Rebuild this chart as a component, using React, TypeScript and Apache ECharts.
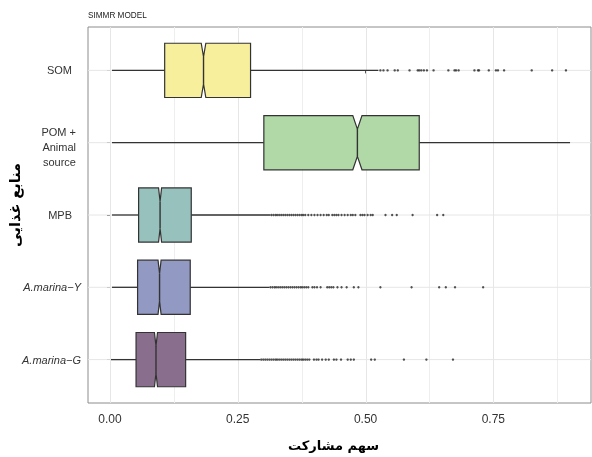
import React, { useEffect, useRef } from 'react';
import * as echarts from 'echarts';

// Categories, top to bottom
const categories = ['SOM', 'POM + Animal source', 'MPB', 'A.marina−Y', 'A.marina−G'];
const labelMarkup = [
  '{n|SOM}',
  '{p|POM +\nAnimal\nsource}',
  '{n|MPB}',
  '{i|A.marina−Y}',
  '{i|A.marina−G}',
];
const boxColors = ['#f8ef9c', '#b1d9a8', '#96c1bd', '#9299c2', '#8a6e8e'];

// Box statistics
const whiskerLow = [0.004, 0.004, 0.004, 0.004, 0.002];
const q1 = [0.107, 0.301, 0.056, 0.054, 0.051];
const median = [0.183, 0.484, 0.098, 0.097, 0.09];
const q3 = [0.275, 0.605, 0.159, 0.157, 0.148];
const whiskerHigh = [0.525, 0.9, 0.314, 0.312, 0.294];
const notchHalf = [0.0045, 0.009, 0.003, 0.003, 0.003];

// Outliers
const outliersSOM = [0.529, 0.535, 0.543, 0.557, 0.563, 0.586, 0.602, 0.605, 0.609, 0.614, 0.62, 0.633, 0.662, 0.674, 0.677, 0.682, 0.713, 0.72, 0.722, 0.741, 0.755, 0.759, 0.771, 0.825, 0.865, 0.892];
const outliersPOM: number[] = [];
const outliersMPB = [0.316, 0.32, 0.324, 0.327, 0.331, 0.335, 0.339, 0.343, 0.347, 0.351, 0.355, 0.359, 0.363, 0.367, 0.371, 0.375, 0.378, 0.382, 0.388, 0.394, 0.4, 0.406, 0.412, 0.418, 0.424, 0.428, 0.435, 0.439, 0.443, 0.447, 0.453, 0.459, 0.465, 0.471, 0.475, 0.48, 0.49, 0.494, 0.498, 0.504, 0.51, 0.514, 0.539, 0.552, 0.561, 0.592, 0.64, 0.652];
const outliersAmY = [0.314, 0.318, 0.322, 0.325, 0.329, 0.333, 0.337, 0.341, 0.345, 0.349, 0.353, 0.357, 0.361, 0.365, 0.369, 0.373, 0.376, 0.38, 0.384, 0.388, 0.396, 0.4, 0.405, 0.412, 0.425, 0.429, 0.433, 0.437, 0.445, 0.453, 0.463, 0.477, 0.486, 0.529, 0.59, 0.644, 0.657, 0.675, 0.73];
const outliersAmG = [0.296, 0.3, 0.304, 0.308, 0.312, 0.316, 0.32, 0.324, 0.327, 0.331, 0.335, 0.339, 0.343, 0.347, 0.351, 0.355, 0.359, 0.363, 0.367, 0.371, 0.375, 0.378, 0.382, 0.386, 0.39, 0.399, 0.404, 0.408, 0.415, 0.422, 0.428, 0.438, 0.443, 0.452, 0.465, 0.471, 0.477, 0.511, 0.518, 0.575, 0.619, 0.671];
const outliers = [outliersSOM, outliersPOM, outliersMPB, outliersAmY, outliersAmG];

const xTicks = [0, 0.25, 0.5, 0.75];
const xMinor = [0.125, 0.375, 0.625, 0.875];
const yTicks = [0, 1, 2, 3, 4];

const FONT = 'Liberation Sans, Arial, Helvetica, sans-serif';
const AR_FONT = 'DejaVu Sans, sans-serif';

export default function App() {
  const ref = useRef<HTMLDivElement>(null);
  useEffect(() => {
    const chart = echarts.init(ref.current!, null, { renderer: 'svg' });
    const boxData = categories.map((_, i) => [i, whiskerLow[i], q1[i], median[i], q3[i], whiskerHigh[i], notchHalf[i]]);
    const outlierData: number[][] = [];
    outliers.forEach((arr, i) => arr.forEach((v) => outlierData.push([v, i])));

    const option: any = {
      animation: false,
      title: {
        text: 'SIMMR MODEL',
        left: 83,
        top: 6.5,
        textStyle: { fontFamily: FONT, fontSize: 8.2, fontWeight: 'normal', color: '#222' },
      },
      grid: {
        left: 88,
        right: 1,
        top: 27,
        bottom: 54,
        outerBoundsMode: 'none',
        containLabel: false,
        show: true,
        borderColor: '#8c8c8c',
        borderWidth: 1,
        backgroundColor: '#fff',
      },
      xAxis: {
        type: 'value',
        min: -0.043,
        max: 0.941,
        axisLine: { show: false },
        splitLine: { show: false },
        axisTick: { show: true, customValues: xTicks, length: 3, lineStyle: { color: '#555' } },
        axisLabel: {
          customValues: xTicks,
          formatter: (v: number) => v.toFixed(2),
          fontFamily: FONT,
          fontSize: 12,
          color: '#333',
          margin: 10,
        },
        name: 'سهم مشارکت',
        nameLocation: 'middle',
        nameGap: 36,
        nameMoveOverlap: false,
        nameTextStyle: { fontFamily: AR_FONT, fontWeight: 'bold', fontSize: 13, color: '#000', padding: [0, 12, 0, 0] },
      },
      yAxis: {
        type: 'value',
        min: -0.6,
        max: 4.6,
        inverse: true,
        axisLine: { show: false },
        splitLine: { show: false },
        axisTick: { show: true, customValues: yTicks, length: 3, lineStyle: { color: '#555' } },
        axisLabel: {
          customValues: yTicks,
          formatter: (v: number) => labelMarkup[Math.round(v)] ?? '',
          margin: 7,
          color: '#333',
          fontFamily: FONT,
          fontSize: 11,
          rich: {
            n: { fontFamily: FONT, fontSize: 11, color: '#333', padding: [0, 9, 0, 0] },
            p: { fontFamily: FONT, fontSize: 11, color: '#333', lineHeight: 15, padding: [8, 5, 0, 0] },
            i: { fontFamily: FONT, fontSize: 11, color: '#333', fontStyle: 'italic' },
          },
        },
        name: 'منابع غذایی',
        nameLocation: 'middle',
        nameRotate: 90,
        nameGap: 66,
        nameMoveOverlap: false,
        nameTextStyle: { fontFamily: AR_FONT, fontWeight: 'bold', fontSize: 14.5, color: '#000', padding: [0, 0, 0, 20] },
      },
      series: [
        {
          type: 'custom',
          silent: true,
          z: 1,
          data: [[0, 0]],
          encode: { x: 0, y: 1 },
          renderItem: (params: any, api: any) => {
            const cs = params.coordSys;
            const children: any[] = [];
            xMinor.forEach((v) => {
              const x = Math.round(api.coord([v, 0])[0]) + 0.5;
              children.push({ type: 'line', shape: { x1: x, y1: cs.y, x2: x, y2: cs.y + cs.height }, style: { stroke: '#eeeeee', lineWidth: 1 } });
            });
            xTicks.forEach((v) => {
              const x = Math.round(api.coord([v, 0])[0]) + 0.5;
              children.push({ type: 'line', shape: { x1: x, y1: cs.y, x2: x, y2: cs.y + cs.height }, style: { stroke: '#e6e6e6', lineWidth: 1 } });
            });
            yTicks.forEach((v) => {
              const y = api.coord([0, v])[1];
              children.push({ type: 'line', shape: { x1: cs.x, y1: y, x2: cs.x + cs.width, y2: y }, style: { stroke: '#e6e6e6', lineWidth: 1 } });
            });
            return { type: 'group', children };
          },
        },
        {
          type: 'custom',
          z: 2,
          data: boxData,
          encode: { x: [1, 2, 3, 4, 5], y: 0 },
          renderItem: (params: any, api: any) => {
            const c = api.value(0);
            const wl = api.value(1), a = api.value(2), m = api.value(3), b = api.value(4), wh = api.value(5), nh = api.value(6);
            const cy = api.coord([0, c])[1];
            const hh = api.size([0, 1])[1] * 0.375;
            const X = (v: number) => api.coord([v, c])[0];
            const top = cy - hh, bot = cy + hh, ind = hh * 0.5;
            const pts = [
              [X(a), top], [X(m - nh), top], [X(m), top + ind], [X(m + nh), top], [X(b), top],
              [X(b), bot], [X(m + nh), bot], [X(m), bot - ind], [X(m - nh), bot], [X(a), bot],
            ];
            const stroke = '#333';
            return {
              type: 'group',
              children: [
                { type: 'line', shape: { x1: X(wl), y1: cy, x2: X(a), y2: cy }, style: { stroke, lineWidth: 1.3 } },
                { type: 'line', shape: { x1: X(b), y1: cy, x2: X(wh), y2: cy }, style: { stroke, lineWidth: 1.3 } },
                { type: 'polygon', shape: { points: pts }, style: { fill: boxColors[c], stroke, lineWidth: 1.2 } },
                { type: 'line', shape: { x1: X(m), y1: top + ind, x2: X(m), y2: bot - ind }, style: { stroke, lineWidth: 1.4 } },
              ],
            };
          },
        },
        {
          type: 'scatter',
          z: 3,
          data: outlierData,
          symbol: 'circle',
          symbolSize: 2.4,
          itemStyle: { color: '#333', opacity: 0.85 },
          silent: true,
        },
      ],
    };
    chart.setOption(option);
    return () => chart.dispose();
  }, []);
  return <div ref={ref} style={{ position: 'fixed', left: 0, top: 0, width: 592, height: 457 }} />;
}
